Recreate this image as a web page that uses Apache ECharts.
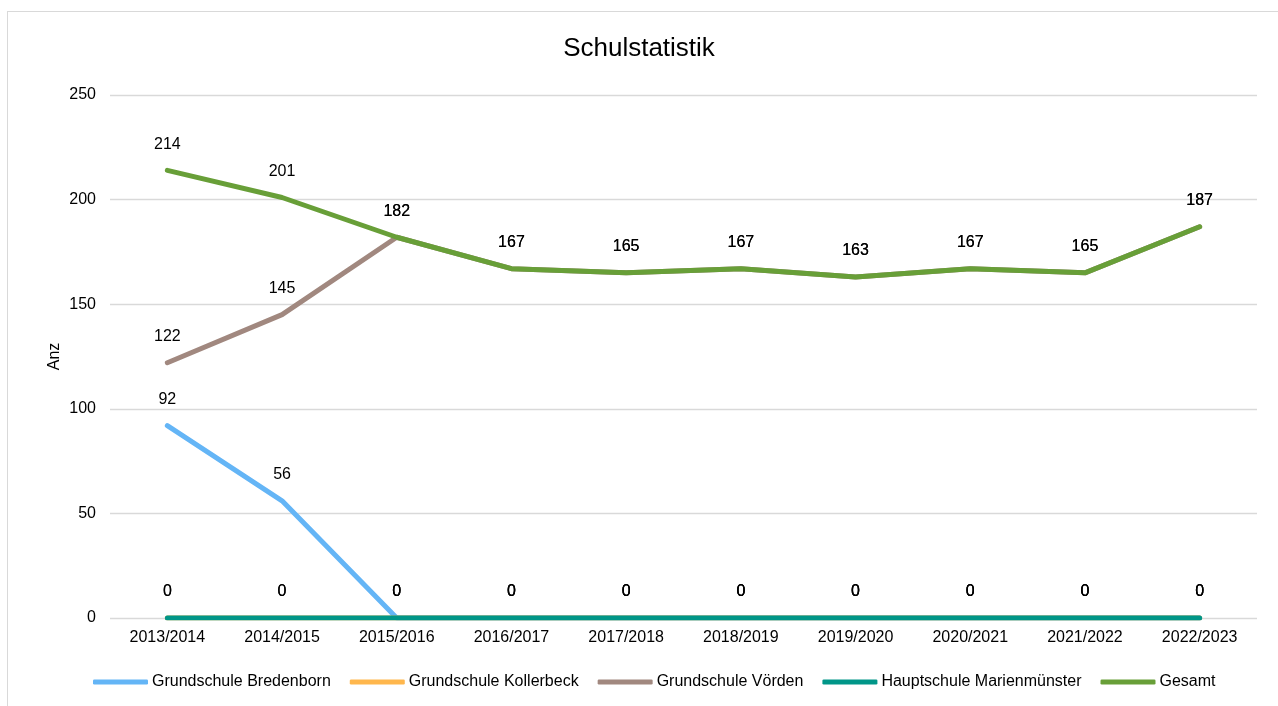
<!DOCTYPE html>
<html>
<head>
<meta charset="utf-8">
<script src="https://cdn.jsdelivr.net/npm/echarts@6/dist/echarts.min.js"></script>
<style>
  html, body { margin: 0; padding: 0; background: #fff; }
  #frame { position: absolute; left: 7px; top: 11px; width: 1300px; height: 720px; border: 1px solid #d9d9d9; }
  #chart { position: absolute; left: 0; top: 0; width: 1278px; height: 706px; }
</style>
</head>
<body>
<div id="frame"></div>
<div id="chart"></div>
<script>
const years = ['2013/2014', '2014/2015', '2015/2016', '2016/2017', '2017/2018',
  '2018/2019', '2019/2020', '2020/2021', '2021/2022', '2022/2023'];
const bredenborn = [92, 56, 0, 0, 0, 0, 0, 0, 0, 0];
const kollerbeck = [0, 0, 0, 0, 0, 0, 0, 0, 0, 0];
const voerden = [122, 145, 182, 167, 165, 167, 163, 167, 165, 187];
const marienmuenster = [0, 0, 0, 0, 0, 0, 0, 0, 0, 0];
const gesamt = [214, 201, 182, 167, 165, 167, 163, 167, 165, 187];

const font = 'Liberation Sans, Arial, sans-serif';

const makeSeries = (name, data, color) => ({
  name,
  type: 'line',
  data,
  symbol: 'circle',
  symbolSize: 0,
  showSymbol: true,
  lineStyle: { width: 5, color, cap: 'round', join: 'round' },
  itemStyle: { color },
  label: {
    show: true,
    position: 'top',
    distance: 18,
    color: '#000',
    fontSize: 16,
    fontFamily: font
  },
  emphasis: { disabled: true }
});

const chart = echarts.init(document.getElementById('chart'));
chart.setOption({
  animation: false,
  title: {
    text: 'Schulstatistik',
    left: 'center',
    top: 31,
    textStyle: { fontSize: 26, fontWeight: 'normal', color: '#000', fontFamily: font }
  },
  legend: {
    bottom: 16,
    left: 93,
    padding: 0,
    icon: 'roundRect',
    itemWidth: 55,
    itemHeight: 5,
    itemGap: 19,
    textStyle: { fontSize: 16, color: '#000', fontFamily: font, padding: [0, 0, 0, -1] },
    data: ['Grundschule Bredenborn', 'Grundschule Kollerbeck', 'Grundschule Vörden',
      'Hauptschule Marienmünster', 'Gesamt']
  },
  grid: { left: 110, right: 21, top: 95, bottom: 88 },
  xAxis: {
    type: 'category',
    data: years,
    boundaryGap: true,
    axisLine: { show: false },
    axisTick: { show: false },
    axisLabel: { color: '#000', fontSize: 16, fontFamily: font, margin: 12 }
  },
  yAxis: {
    type: 'value',
    min: 0,
    max: 250,
    interval: 50,
    name: 'Anz',
    nameLocation: 'middle',
    nameGap: 47,
    nameRotate: 90,
    nameMoveOverlap: false,
    nameTextStyle: { color: '#000', fontSize: 16, fontFamily: font },
    axisLabel: { color: '#000', fontSize: 16, fontFamily: font, margin: 14 },
    splitLine: { lineStyle: { color: '#d9d9d9', width: 1.3 } }
  },
  series: [
    makeSeries('Grundschule Bredenborn', bredenborn, '#64b5f6'),
    makeSeries('Grundschule Kollerbeck', kollerbeck, '#ffb74d'),
    makeSeries('Grundschule Vörden', voerden, '#a1887f'),
    makeSeries('Hauptschule Marienmünster', marienmuenster, '#009688'),
    makeSeries('Gesamt', gesamt, '#689f38')
  ]
});
</script>
</body>
</html>
